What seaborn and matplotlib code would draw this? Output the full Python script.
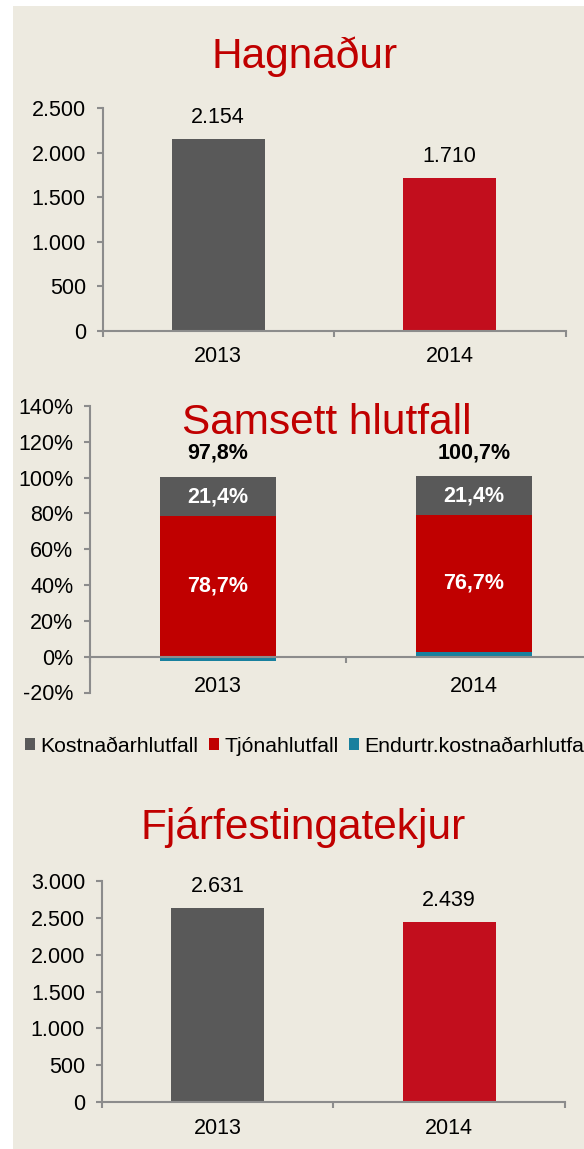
import numpy as np
import seaborn as sns
import matplotlib.pyplot as plt
from matplotlib.patches import Rectangle, Patch
from matplotlib.ticker import FuncFormatter, FixedLocator

plt.rcParams['font.family'] = ['Liberation Sans', 'DejaVu Sans']

years = ['2013', '2014']
hagnadur = [2154, 1710]
fjarfesting = [2631, 2439]
kostnadar = [21.4, 21.4]
tjona = [78.7, 76.7]
endurtr = [-2.3, 2.6]
samsett = [97.8, 100.7]
series_names = ['Kostnaðarhlutfall', 'Tjónahlutfall', 'Endurtr.kostnaðarhlutfall']

BG = '#EDEAE0'
GRAY = '#595959'
RED = '#C20E1D'
RED2 = '#C00000'
BLUE = '#18809E'
AXC = '#8C8C8C'
TITLE_RED = '#C00000'
W, H = 584, 1149

fig = plt.figure(figsize=(W / 100, H / 100), dpi=100)
fig.patch.set_facecolor('white')
fig.patches.append(Rectangle((13 / W, 0), 1, 1 - 6 / H, transform=fig.transFigure,
                             facecolor=BG, edgecolor='none', zorder=-10))


def px_axes(left, top, right, bottom):
    return fig.add_axes([left / W, 1 - bottom / H, (right - left) / W, (bottom - top) / H])


def style_axes(ax):
    ax.set_facecolor('none')
    for s in ['top', 'right']:
        ax.spines[s].set_visible(False)
    for s in ['left', 'bottom']:
        ax.spines[s].set_color(AXC)
        ax.spines[s].set_linewidth(1.5)
    ax.tick_params(axis='y', length=4, width=1.5, color=AXC, pad=8, labelsize=15.5)
    ax.tick_params(axis='x', which='major', length=4, width=1.5, color=AXC, labelbottom=False)
    ax.tick_params(axis='x', which='minor', length=0, pad=11, labelsize=15.5)
    ax.set_xlim(-0.5, 1.5)
    ax.xaxis.set_major_locator(FixedLocator([-0.5, 0.5, 1.5]))
    ax.xaxis.set_minor_locator(FixedLocator([0, 1]))
    ax.set_xticklabels(years, minor=True)
    ax.set_xlabel('')
    ax.set_ylabel('')


def thousands(v, pos=None):
    return f"{int(v):,}".replace(",", ".")


def simple_chart(ax, values, ymax, step):
    sns.barplot(x=years, y=values, hue=years, palette=[GRAY, RED], width=0.4,
                saturation=1, legend=False, ax=ax)
    style_axes(ax)
    ax.set_ylim(0, ymax)
    ax.set_yticks(np.arange(0, ymax + 1, step))
    ax.yaxis.set_major_formatter(FuncFormatter(thousands))
    for c in ax.containers:
        ax.bar_label(c, labels=[thousands(v) for v in c.datavalues], padding=8, fontsize=15.5)


# Hagnaður
ax1 = px_axes(102.5, 108, 565.5, 331)
simple_chart(ax1, hagnadur, 2500, 500)
fig.text(305 / W, 1 - 68 / H, 'Hagnaður', ha='center', va='baseline', fontsize=30.5, color=TITLE_RED)

# Samsett hlutfall (stacked)
ax2 = px_axes(90, 406, 602, 692.5)
pos_end = np.maximum(endurtr, 0)
red_top = np.array(tjona) + pos_end
gray_top = red_top + np.array(kostnadar)
sns.barplot(x=years, y=gray_top, color=GRAY, width=0.45, saturation=1, ax=ax2)
sns.barplot(x=years, y=red_top, color=RED2, width=0.45, saturation=1, ax=ax2)
sns.barplot(x=years, y=endurtr, color=BLUE, width=0.45, saturation=1, ax=ax2)
style_axes(ax2)
ax2.set_ylim(-20, 140)
ax2.set_yticks(np.arange(-20, 141, 20))
ax2.yaxis.set_major_formatter(FuncFormatter(lambda v, p: f"{int(v)}%"))
ax2.spines['bottom'].set_position(('data', 0))
ax2.tick_params(axis='x', which='minor', pad=14)


def pct(v):
    return f"{v:.1f}%".replace(".", ",")


for i in range(len(years)):
    ax2.text(i, (red_top[i] + gray_top[i]) / 2, pct(kostnadar[i]), ha='center', va='center',
             color='white', fontsize=15.5, fontweight='bold')
    ax2.text(i, (pos_end[i] + red_top[i]) / 2, pct(tjona[i]), ha='center', va='center',
             color='white', fontsize=15.5, fontweight='bold')
    ax2.text(i, 113.5, pct(samsett[i]), ha='center', va='center',
             color='black', fontsize=15.5, fontweight='bold')
fig.text(327 / W, 1 - 434 / H, 'Samsett hlutfall', ha='center', va='baseline', fontsize=30.5, color=TITLE_RED)

handles = [Patch(facecolor=c, edgecolor='none') for c in [GRAY, RED2, BLUE]]
fig.legend(handles, series_names, loc='center left', bbox_to_anchor=(25 / W, 1 - 746 / H),
           ncol=3, frameon=False, fontsize=15.3, handlelength=0.48, handleheight=0.48,
           handletextpad=0.25, columnspacing=0.48, borderpad=0, borderaxespad=0)

# Fjárfestingatekjur
ax3 = px_axes(101.7, 880.7, 565, 1102.3)
simple_chart(ax3, fjarfesting, 3000, 500)
fig.text(303 / W, 1 - 839 / H, 'Fjárfestingatekjur', ha='center', va='baseline', fontsize=30.5, color=TITLE_RED)

plt.savefig('out.png', dpi=100)
